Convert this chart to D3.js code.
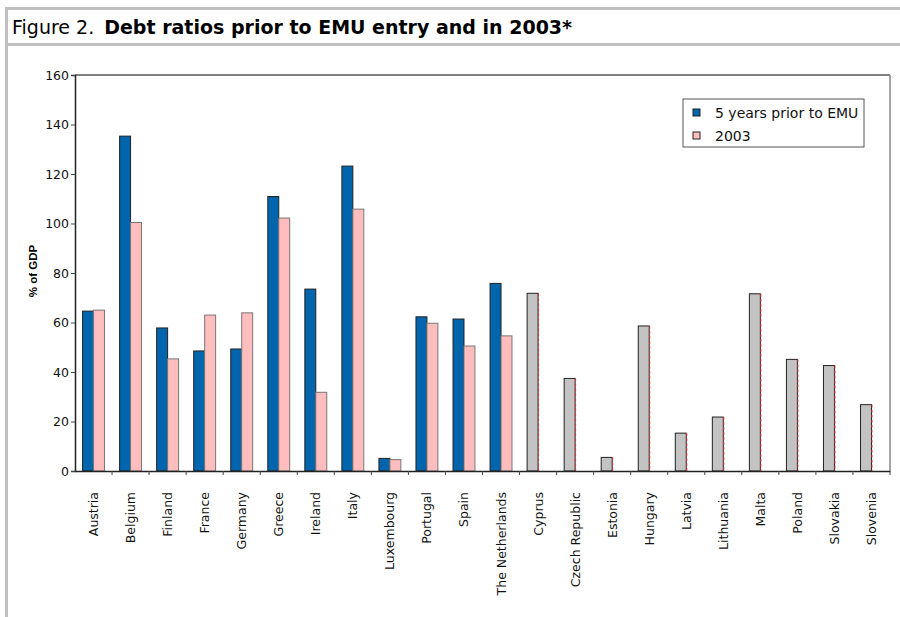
<!DOCTYPE html>
<html>
<head>
<meta charset="utf-8">
<script src="https://cdn.jsdelivr.net/npm/d3@7"></script>
<style>
  body { margin: 0; background: #fff; }
  svg { display: block; font-family: "DejaVu Sans", sans-serif; }
</style>
</head>
<body>
<svg id="chart" width="900" height="617"></svg>
<script>
// data
var countries = ["Austria", "Belgium", "Finland", "France", "Germany", "Greece", "Ireland", "Italy",
  "Luxembourg", "Portugal", "Spain", "The Netherlands", "Cyprus", "Czech Republic", "Estonia",
  "Hungary", "Latvia", "Lithuania", "Malta", "Poland", "Slovakia", "Slovenia"];
// 5 years prior to EMU (members only)
var priorEMU = [64.6, 135.3, 57.8, 48.5, 49.3, 110.9, 73.5, 123.2, 5.1, 62.3, 61.4, 75.8];
// 2003 values of the members
var y2003 = [65, 100.4, 45.3, 63, 63.9, 102.2, 31.8, 105.8, 4.6, 59.7, 50.5, 54.6];
// 2003 values of the new member states (grey bars)
var newMembers2003 = [71.8, 37.4, 5.5, 58.6, 15.3, 21.8, 71.6, 45.1, 42.6, 26.8];
var yTicks = [0, 20, 40, 60, 80, 100, 120, 140, 160];

var svg = d3.select("#chart");
var margin = {left: 75, right: 10, top: 75, bottom: 146};
var W = 900, H = 617;

// frame
svg.append("rect").attr("x", 5).attr("y", 8).attr("width", 3).attr("height", H - 8).attr("fill", "#c0c0c0");
svg.append("rect").attr("x", 5).attr("y", 7).attr("width", W - 5).attr("height", 3).attr("fill", "#c0c0c0");
svg.append("rect").attr("x", 5).attr("y", 43).attr("width", W - 5).attr("height", 3).attr("fill", "#c0c0c0");

var title = svg.append("text").attr("x", 12).attr("y", 34).attr("font-size", 19).attr("fill", "#000");
title.append("tspan").text("Figure 2.");
title.append("tspan").attr("dx", 10).attr("font-weight", "bold").text("Debt ratios prior to EMU entry and in 2003*");

var x = d3.scaleBand().domain(countries).range([margin.left, W - margin.right]).padding(0);
var xs = d3.scaleBand().domain(["prior", "2003"]).range([0, x.bandwidth()]).paddingInner(0).paddingOuter(0.69);
var y = d3.scaleLinear().domain([0, 160]).range([H - margin.bottom, margin.top]);

// plot area box (top + right)
svg.append("line").attr("x1", margin.left).attr("x2", W - margin.right)
  .attr("y1", y(160)).attr("y2", y(160)).attr("stroke", "#555").attr("stroke-width", 1.5);
svg.append("line").attr("x1", W - margin.right).attr("x2", W - margin.right)
  .attr("y1", y(160)).attr("y2", y(0)).attr("stroke", "#888").attr("stroke-width", 1.5);

// blue bars
var members = countries.slice(0, priorEMU.length);
svg.append("g").selectAll("rect").data(priorEMU).enter().append("rect")
  .attr("x", (d, i) => x(members[i]) + xs("prior"))
  .attr("y", d => y(d))
  .attr("width", xs.bandwidth())
  .attr("height", d => y(0) - y(d))
  .attr("fill", "#0065ac")
  .attr("stroke", "#222").attr("stroke-width", 1);

// pink bars
svg.append("g").selectAll("rect").data(y2003).enter().append("rect")
  .attr("x", (d, i) => x(members[i]) + xs("2003"))
  .attr("y", d => y(d))
  .attr("width", xs.bandwidth())
  .attr("height", d => y(0) - y(d))
  .attr("fill", "#ffbdbd")
  .attr("stroke", "#777").attr("stroke-width", 1);

// grey bars for new members
var newOnes = countries.slice(priorEMU.length);
var gGrey = svg.append("g");
gGrey.selectAll("rect").data(newMembers2003).enter().append("rect")
  .attr("x", (d, i) => x(newOnes[i]) + xs("prior"))
  .attr("y", d => y(d))
  .attr("width", xs.bandwidth())
  .attr("height", d => y(0) - y(d))
  .attr("fill", "#c3c3c3")
  .attr("stroke", "#222").attr("stroke-width", 1);
gGrey.selectAll("line").data(newMembers2003).enter().append("line")
  .attr("x1", (d, i) => x(newOnes[i]) + xs("2003") + 0.5)
  .attr("x2", (d, i) => x(newOnes[i]) + xs("2003") + 0.5)
  .attr("y1", d => y(d)).attr("y2", y(0))
  .attr("stroke", "#e03030").attr("stroke-width", 1).attr("stroke-dasharray", "3,2");

// axes
var yAxis = svg.append("g").attr("transform", "translate(" + margin.left + ",0)")
  .call(d3.axisLeft(y).tickValues(yTicks).tickSize(4).tickPadding(2).tickFormat(d3.format("d")));
yAxis.select(".domain").attr("stroke", "#222").attr("stroke-width", 1.5);
yAxis.selectAll(".tick line").attr("stroke", "#444");
yAxis.selectAll("text").attr("font-size", 12.5).attr("font-family", "DejaVu Sans").attr("fill", "#111");

var xAxis = svg.append("g").attr("transform", "translate(0," + y(0) + ")")
  .call(d3.axisBottom(x).tickSize(0).tickFormat(""));
xAxis.select(".domain").attr("stroke", "#222").attr("stroke-width", 1.5);
// ticks between categories
svg.append("g").selectAll("line").data(countries).enter().append("line")
  .attr("x1", d => x(d) + x.bandwidth()).attr("x2", d => x(d) + x.bandwidth())
  .attr("y1", y(0)).attr("y2", y(0) + 4).attr("stroke", "#444");

svg.append("g").selectAll("text").data(countries).enter().append("text")
  .attr("transform", d => "translate(" + (x(d) + x.bandwidth() / 2 + 4.5) + "," + (y(0) + 21) + ") rotate(-90)")
  .attr("text-anchor", "end")
  .attr("font-size", 12.5)
  .attr("fill", "#111")
  .text(d => d);

svg.append("text")
  .attr("transform", "translate(37," + (y(80) - 2) + ") rotate(-90)")
  .attr("text-anchor", "middle")
  .attr("font-family", "Liberation Sans, Arial, sans-serif")
  .attr("font-weight", "bold")
  .attr("font-size", 11.5)
  .text("% of GDP");

// legend
var legend = svg.append("g").attr("transform", "translate(683,99)");
legend.append("rect").attr("width", 181).attr("height", 48)
  .attr("fill", "#fff").attr("stroke", "#555").attr("stroke-width", 1);
var legendItems = [{label: "5 years prior to EMU", fill: "#0065ac"}, {label: "2003", fill: "#ffbdbd"}];
legendItems.forEach(function (d, i) {
  legend.append("rect").attr("x", 10).attr("y", 10 + i * 23).attr("width", 7).attr("height", 7)
    .attr("fill", d.fill).attr("stroke", "#222");
  legend.append("text").attr("x", 32).attr("y", 19 + i * 23).attr("font-size", 14).attr("fill", "#111").text(d.label);
});
</script>
</body>
</html>
